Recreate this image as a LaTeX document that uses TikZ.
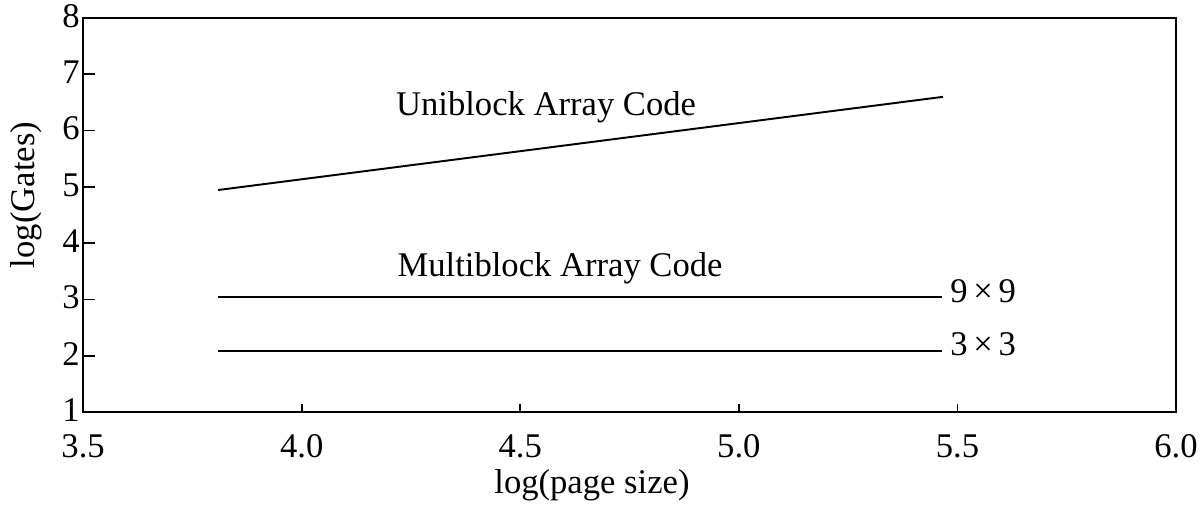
\documentclass[tikz,border=0pt]{standalone}
\usepackage{fontspec}
\setmainfont{Liberation Serif}
\usetikzlibrary{calc}

\begin{document}
\begin{tikzpicture}[x=8.744cm, y=1.126cm]
\tikzstyle{lbl}   = [font=\fontsize{19.7}{23}\selectfont, inner sep=0pt]
\tikzstyle{curve} = [line width=1.1pt]
\useasboundingbox (3.310,-0.650) rectangle (6.0617,8.320);
 %%Frame
\draw [line width=1.1pt] (3.5,1) rectangle (6,8);
 %%Ticks
\foreach \y in {2,...,7}
  \draw [line width=1pt] (3.5,\y) -- ++(0.24cm,0);
\foreach \x in {4.0,4.5,5.0,5.5}
  \draw [line width=1pt] (\x,1) -- ++(0,0.16cm);
 %%Tick labels
\foreach \y in {1,...,8}
  \node [lbl, anchor=east](ty\y) at ($(3.5,\y)+(-0.06cm,0.04cm)$) {\y};
\foreach \x [count=\i] in {3.5,4.0,4.5,5.0,5.5,6.0}
  \node [lbl, anchor=base](tx\i) at ($(\x,1)+(0,-0.9cm)$) {\x};
 %%Axis labels
\node [lbl, anchor=base](xlab) at ($(4.664,1)+(0,-1.62cm)$) {log(page size)};
\node [lbl, rotate=90](ylab) at (3.370,4.856) {log(Gates)};
 %%Data
\coordinate (u1) at (3.809,4.945);
\coordinate (u2) at (5.467,6.60);
\coordinate (m1) at (3.809,3.04);
\coordinate (m2) at (5.465,3.04);
\coordinate (s1) at (3.809,2.09);
\coordinate (s2) at (5.465,2.09);
\draw [curve] (u1)--(u2);
\draw [curve] (m1)--(m2);
\draw [curve] (s1)--(s2);
 %%Curve labels
\node [lbl, anchor=base](uni) at (4.559,6.26) {Uniblock Array Code};
\node [lbl, anchor=base](multi) at (4.591,3.40) {Multiblock Array Code};
\node [lbl, anchor=base west](n9) at (5.483,2.955) {9\,×\,9};
\node [lbl, anchor=base west](n3) at (5.483,2.014) {3\,×\,3};
\end{tikzpicture}
\end{document}
